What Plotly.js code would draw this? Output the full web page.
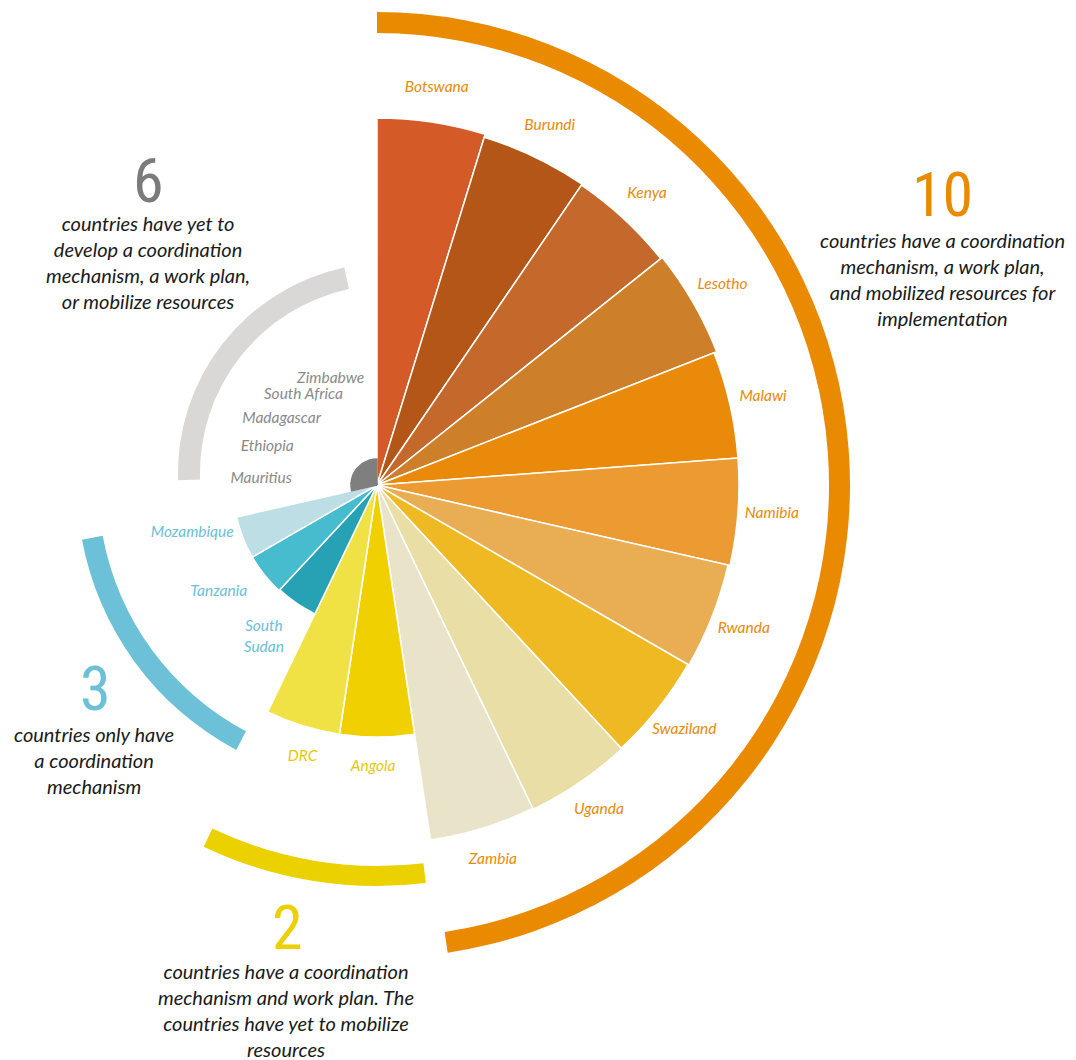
<!DOCTYPE html>
<html><head><meta charset="utf-8">
<script src="https://cdn.plot.ly/plotly-3.0.1.min.js"></script>
<style>
html,body{margin:0;padding:0;overflow:hidden;background:#fff;width:1076px;height:1060px;}
#chart{position:absolute;left:-123px;top:-15px;width:1199px;height:1075px;}
</style></head>
<body><div id="chart"></div>
<script>
// ---- data ----
const countries = ['Botswana','Burundi','Kenya','Lesotho','Malawi','Namibia','Rwanda','Swaziland','Uganda','Zambia',
  'Angola','DRC','South Sudan','Tanzania','Mozambique',
  'Mauritius','Ethiopia','Madagascar','South Africa','Zimbabwe',''];
const groupOf = [0,0,0,0,0,0,0,0,0,0, 1,1, 2,2,2, 3,3,3,3,3,3];
const values = [367,364,363,365,362,362,360,359,360,359, 252,252, 143,144,144, 26,26,26,26,26,26];
const barColors = ['#d45a27','#b35617','#c5682c','#cd7f29','#e98a0b','#ec9a32','#e9ae54','#eeb923','#e9dea5','#e9e3c9',
  '#f0d000','#f0e145', '#27a2b5','#46bcce','#bcdee4',
  '#7f7f7f','#7f7f7f','#7f7f7f','#7f7f7f','#7f7f7f','#7f7f7f'];
const groupCounts = ['10','2','3','6'];
const groupTexts = [
  'countries have a coordination<br>mechanism, a work plan,<br>and mobilized resources for<br>implementation',
  'countries have a coordination<br>mechanism and work plan. The<br>countries have yet to mobilize<br>resources',
  'countries only have<br>a coordination<br>mechanism',
  'countries have yet to<br>develop a coordination<br>mechanism, a work plan,<br>or mobilize resources'
];

// ---- styles / layout ----
const groupColors = ['#ea8a00','#ecd100','#6cc0d8','#d9d8d6'];
const groupNumColors = ['#ea8a00','#ecd100','#6cc0d8','#7b7b7b'];
const labelColors = ['#e98a0b','#e6c80a','#6cc0d8','#8a8a8a'];
const labelOffset = [34, 30, 47, 90];
const labelAngle = [[0, 1], [28.5, 0.846], [-25.8, 1.131], [26.9, 0.926]]; // theta' = a + b*theta
const barLineColor = ['#ffffff', '#ffffff', '#ffffff', '#7f7f7f'];
const arcs = [ // [startDeg, endDeg, innerR, thickness, polar subplot]
  [0, 171.4, 452, 21, 'polar'],
  [173, 205.6, 381, 20, 'polar'],
  [208, 259.5, 279, 21, 'polar'],
  [268, 348, 188, 22, 'polar2']
];
const numPos = [[942,195],[287,927],[95,688],[148,180]];
const textPos = [[942,279],[286,1010],[94,760],[148,262]];

const n = countries.length;
const slot = 360 / n;
const theta = countries.map((c, i) => i * slot + slot / 2);

const W = 1199, H = 1075, OX = 123, OY = 15;
const px = x => (x + OX) / W;
const py = y => 1 - (y + OY) / H;
// square polar domain centred on a page point with a given pixel radius
const dom = (cx, cy, R) => ({x: [px(cx - R), px(cx + R)], y: [py(cy + R), py(cy - R)]});

const traces = [];
traces.push({
  type: 'barpolar', subplot: 'polar', r: values, theta: theta, width: countries.map(() => slot),
  marker: {color: barColors, line: {color: groupOf.map(g => barLineColor[g]), width: 1.5}},
  hoverinfo: 'none', showlegend: false
});
arcs.forEach((a, g) => {
  traces.push({
    type: 'barpolar', subplot: a[4], r: [a[3]], base: [a[2]], theta: [(a[0] + a[1]) / 2], width: [a[1] - a[0]],
    marker: {color: groupColors[g], line: {width: 0}}, hoverinfo: 'none', showlegend: false
  });
});
traces.push({
  type: 'scatterpolar', subplot: 'polar', mode: 'text',
  r: values.map((v, i) => v + labelOffset[groupOf[i]]),
  theta: theta.map((t, i) => labelAngle[groupOf[i]][0] + labelAngle[groupOf[i]][1] * t),
  text: countries.map(c => c === 'South Sudan' ? 'South<br>Sudan' : c),
  textposition: 'middle center',
  textfont: {family: 'Lato, "Noto Sans", sans-serif', size: 15.5, style: 'italic',
    color: groupOf.map(g => labelColors[g])},
  cliponaxis: false, hoverinfo: 'none', showlegend: false
});

const annotations = [];
groupCounts.forEach((num, g) => {
  annotations.push({
    xref: 'paper', yref: 'paper', x: px(numPos[g][0]), y: py(numPos[g][1]),
    xanchor: 'center', yanchor: 'middle', showarrow: false, text: num,
    font: {family: '"Liberation Sans Narrow", "Roboto Condensed", "DejaVu Sans Condensed", sans-serif', size: 62, color: groupNumColors[g]}
  });
  annotations.push({
    xref: 'paper', yref: 'paper', x: px(textPos[g][0]), y: py(textPos[g][1]),
    xanchor: 'center', yanchor: 'middle', align: 'center', showarrow: false, text: groupTexts[g],
    font: {family: 'Lato, "Noto Sans", sans-serif', size: 20, style: 'italic', color: '#1a1a1a'}
  });
});

const hiddenRadial = R => ({range: [0, R], visible: false, showgrid: false, showline: false, showticklabels: false, ticks: ''});
const hiddenAngular = {direction: 'clockwise', rotation: 90, visible: false, showgrid: false, showline: false, showticklabels: false, ticks: ''};

const layout = {
  width: W, height: H, margin: {l: 0, r: 0, t: 0, b: 0},
  paper_bgcolor: 'rgba(0,0,0,0)', plot_bgcolor: 'rgba(0,0,0,0)', showlegend: false,
  polar2: {
    domain: dom(388, 473, 250), bgcolor: 'rgba(0,0,0,0)', barmode: 'overlay',
    radialaxis: hiddenRadial(250), angularaxis: hiddenAngular
  },
  polar: {
    domain: dom(377, 485, 500), bgcolor: 'rgba(0,0,0,0)', barmode: 'overlay',
    radialaxis: hiddenRadial(500), angularaxis: hiddenAngular
  },
  annotations: annotations
};
Plotly.newPlot('chart', traces, layout, {displayModeBar: false, staticPlot: true});
</script></body></html>
